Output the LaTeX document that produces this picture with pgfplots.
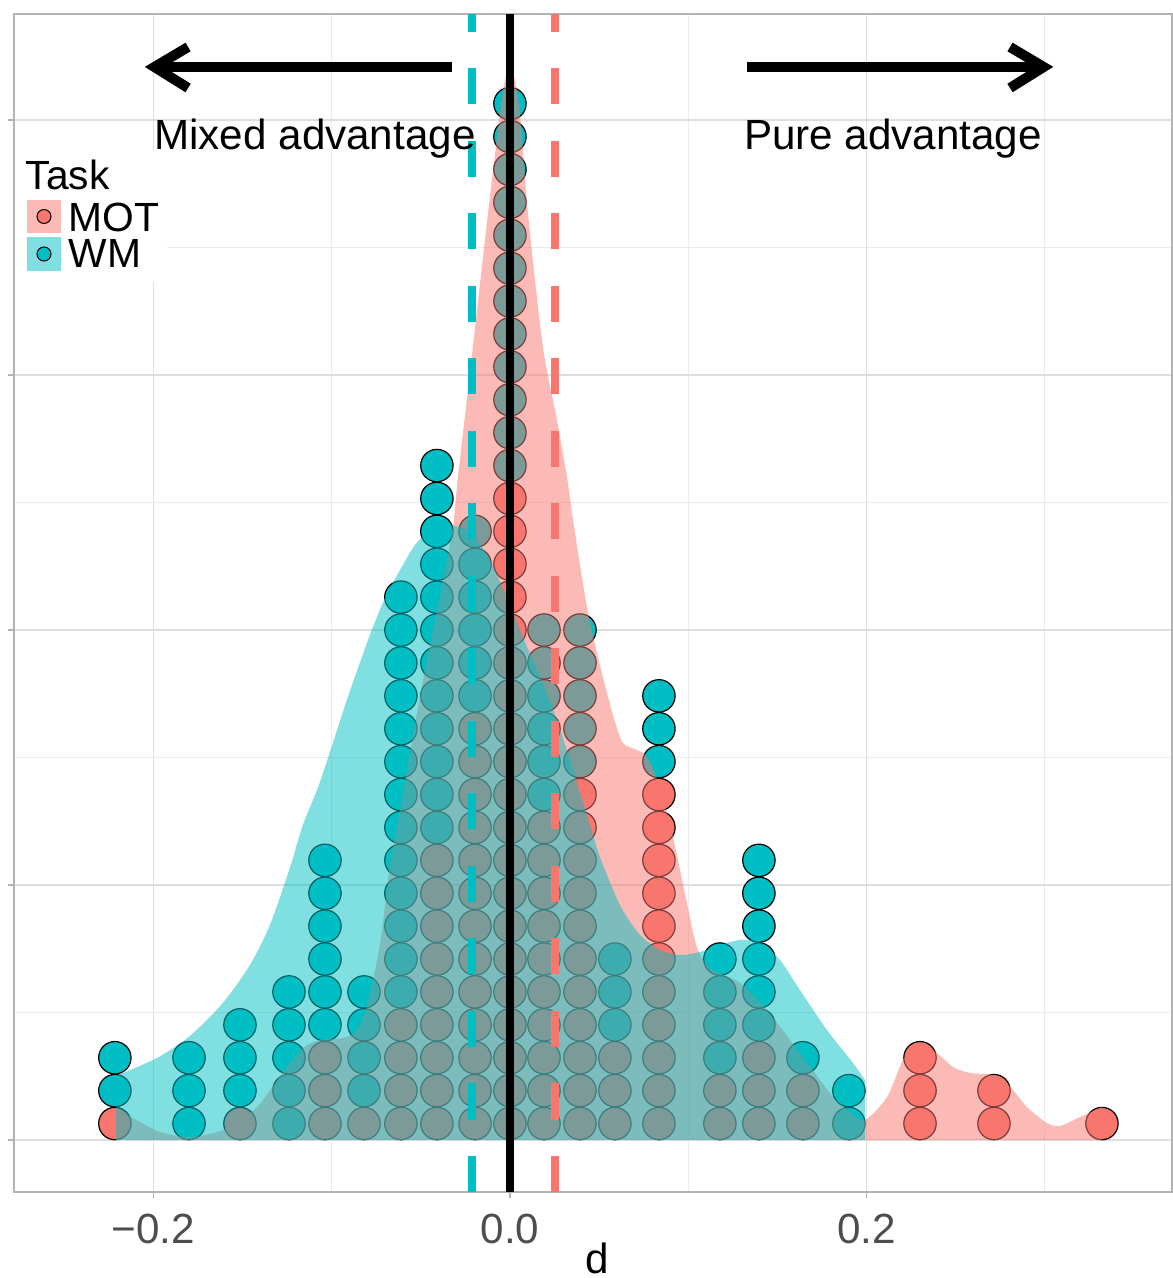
\documentclass[border=0pt]{standalone}
\usepackage{fontspec}
\setmainfont{Liberation Sans}
\usepackage{pgfplots}
\pgfplotsset{compat=1.18}
\definecolor{mot}{HTML}{F8766D}
\definecolor{wm}{HTML}{00BFC4}
\definecolor{gridmaj}{HTML}{DEDEDE}
\definecolor{gridmin}{HTML}{EBEBEB}
\definecolor{border}{HTML}{B3B3B3}
\definecolor{ticklab}{HTML}{4D4D4D}
\begin{document}
\begin{tikzpicture}
\begin{axis}[
  at={(0,0)}, anchor=south west,
  scale only axis, width=115.8mm, height=117.8mm,
  xmin=-0.2783, xmax=0.3715, ymin=-1.581, ymax=34.225,
  xtick={-0.2,0,0.2}, xticklabels={−0.2,0.0,0.2},
  minor xtick={-0.1,0.1,0.3},
  ytick={0,7.751,15.502,23.252,31.003}, yticklabels={},
  minor ytick={3.875,11.626,19.377,27.128},
  grid=both,
  major grid style={color=gridmaj, line width=0.15mm},
  minor grid style={color=gridmin, line width=0.1mm},
  xtick pos=lower, ytick pos=left,
  tick align=outside, major tick length=0.6mm, minor tick length=0pt,
  tick style={color=border, line width=0.12mm},
  axis line style={color=border, line width=0.13mm},
  xticklabel style={font=\fontsize{12}{14}\selectfont, color=ticklab, inner sep=0pt, yshift=-1.5mm},
  xlabel={d}, xlabel style={font=\fontsize{12}{14}\selectfont, at={(axis description cs:0.5,0)}, anchor=base, yshift=-8.1mm, xshift=0.4mm, inner sep=0pt},
  clip marker paths=true,
]
% MOT dots
\addplot[only marks, mark=*, mark size=1.62mm, mark options={fill=mot, draw=black, line width=0.12mm}] table {
x y
-0.2217 0.5
-0.1515 0.5
-0.1038 0.5
-0.1038 1.5
-0.1038 2.5
-0.0819 0.5
-0.0612 0.5
-0.0612 1.5
-0.0612 2.5
-0.0612 3.5
-0.0410 0.5
-0.0410 1.5
-0.0410 2.5
-0.0410 3.5
-0.0410 4.5
-0.0410 5.5
-0.0410 6.5
-0.0410 7.5
-0.0410 8.5
-0.0196 0.5
-0.0196 1.5
-0.0196 2.5
-0.0196 3.5
-0.0196 4.5
-0.0196 5.5
-0.0196 6.5
-0.0196 7.5
-0.0196 8.5
-0.0196 9.5
-0.0196 10.5
-0.0196 11.5
-0.0196 12.5
0 0.5
0 1.5
0 2.5
0 3.5
0 4.5
0 5.5
0 6.5
0 7.5
0 8.5
0 9.5
0 10.5
0 11.5
0 12.5
0 13.5
0 14.5
0 15.5
0 16.5
0 17.5
0 18.5
0 19.5
0.0191 0.5
0.0191 1.5
0.0191 2.5
0.0191 3.5
0.0191 4.5
0.0191 5.5
0.0191 6.5
0.0191 7.5
0.0191 8.5
0.0191 9.5
0.0393 0.5
0.0393 1.5
0.0393 2.5
0.0393 3.5
0.0393 4.5
0.0393 5.5
0.0393 6.5
0.0393 7.5
0.0393 8.5
0.0393 9.5
0.0393 10.5
0.0589 0.5
0.0589 1.5
0.0589 2.5
0.0836 0.5
0.0836 1.5
0.0836 2.5
0.0836 3.5
0.0836 4.5
0.0836 5.5
0.0836 6.5
0.0836 7.5
0.0836 8.5
0.0836 9.5
0.0836 10.5
0.1178 0.5
0.1178 1.5
0.1397 0.5
0.1397 1.5
0.1397 2.5
0.1644 0.5
0.1644 1.5
0.2301 0.5
0.2301 1.5
0.2301 2.5
0.2716 0.5
0.2716 1.5
0.3322 0.5
};
% WM dots
\addplot[only marks, mark=*, mark size=1.62mm, mark options={fill=wm, draw=black, line width=0.12mm}] table {
x y
-0.2217 1.5
-0.2217 2.5
-0.1801 0.5
-0.1801 1.5
-0.1801 2.5
-0.1515 1.5
-0.1515 2.5
-0.1515 3.5
-0.1240 0.5
-0.1240 1.5
-0.1240 2.5
-0.1240 3.5
-0.1240 4.5
-0.1038 3.5
-0.1038 4.5
-0.1038 5.5
-0.1038 6.5
-0.1038 7.5
-0.1038 8.5
-0.0819 1.5
-0.0819 2.5
-0.0819 3.5
-0.0819 4.5
-0.0612 4.5
-0.0612 5.5
-0.0612 6.5
-0.0612 7.5
-0.0612 8.5
-0.0612 9.5
-0.0612 10.5
-0.0612 11.5
-0.0612 12.5
-0.0612 13.5
-0.0612 14.5
-0.0612 15.5
-0.0612 16.5
-0.0410 9.5
-0.0410 10.5
-0.0410 11.5
-0.0410 12.5
-0.0410 13.5
-0.0410 14.5
-0.0410 15.5
-0.0410 16.5
-0.0410 17.5
-0.0410 18.5
-0.0410 19.5
-0.0410 20.5
-0.0196 13.5
-0.0196 14.5
-0.0196 15.5
-0.0196 16.5
-0.0196 17.5
-0.0196 18.5
0 20.5
0 21.5
0 22.5
0 23.5
0 24.5
0 25.5
0 26.5
0 27.5
0 28.5
0 29.5
0 30.5
0 31.5
0.0191 10.5
0.0191 11.5
0.0191 12.5
0.0191 13.5
0.0191 14.5
0.0191 15.5
0.0393 11.5
0.0393 12.5
0.0393 13.5
0.0393 14.5
0.0393 15.5
0.0589 3.5
0.0589 4.5
0.0589 5.5
0.0836 11.5
0.0836 12.5
0.0836 13.5
0.1178 2.5
0.1178 3.5
0.1178 4.5
0.1178 5.5
0.1397 3.5
0.1397 4.5
0.1397 5.5
0.1397 6.5
0.1397 7.5
0.1397 8.5
0.1644 2.5
0.1902 0.5
0.1902 1.5
};
% MOT density
\addplot[draw=none, fill=mot, fill opacity=0.5, smooth, tension=0.45] table {
x y
-0.2211 0.973
-0.2076 0.547
-0.1964 0.243
-0.1796 0.091
-0.1611 0.304
-0.1420 1.003
-0.1274 2.067
-0.1162 2.796
-0.1066 3.039
-0.0937 3.100
-0.0859 3.343
-0.0802 4.103
-0.0730 5.927
-0.0673 8.359
-0.0617 10.031
-0.0544 12.310
-0.0466 14.590
-0.0393 16.504
-0.0320 18.633
-0.0292 20.152
-0.0208 24.103
-0.0123 28.177
-0.0056 31.216
-0.0028 32.219
0 32.523
0.0028 32.219
0.0056 31.216
0.0101 28.177
0.0185 24.103
0.0264 21.885
0.0320 20.152
0.0354 18.845
0.0432 16.201
0.0505 14.438
0.0578 12.918
0.0634 12.067
0.0713 11.854
0.0769 11.641
0.0842 10.729
0.0915 9.209
0.0993 7.204
0.1049 5.866
0.1122 5.228
0.1291 4.772
0.1442 3.952
0.1627 2.645
0.1813 1.307
0.1908 0.851
0.1992 0.607
0.2116 1.307
0.2205 2.432
0.2262 2.736
0.2301 2.948
0.2396 2.645
0.2486 2.219
0.2581 2.036
0.2710 1.976
0.2789 1.732
0.2901 1.003
0.3013 0.516
0.3086 0.425
0.3199 0.700
0.3322 1.003
} \closedcycle;
% WM density
\addplot[draw=none, fill=wm, fill opacity=0.5, smooth, tension=0.45] table {
x y
-0.2211 1.945
-0.1981 2.492
-0.1796 3.161
-0.1611 4.164
-0.1459 5.319
-0.1347 6.535
-0.1235 8.268
-0.1162 9.575
-0.1066 10.882
-0.0915 13.374
-0.0786 15.350
-0.0701 16.474
-0.0617 17.325
-0.0533 18.086
-0.0449 18.511
-0.0354 18.662
-0.0281 18.633
-0.0208 18.389
-0.0112 17.629
-0.0017 16.474
0.0073 15.288
0.0168 14.072
0.0264 12.766
0.0354 11.246
0.0449 9.575
0.0505 8.602
0.0617 7.143
0.0730 6.231
0.0842 5.775
0.0954 5.623
0.1066 5.714
0.1178 5.927
0.1291 6.079
0.1403 6.019
0.1515 5.471
0.1627 4.559
0.1779 3.343
0.1925 2.340
0.1992 1.823
} \closedcycle;
% mean lines
\addplot[wm, line width=0.8mm, dash pattern=on 3.6mm off 3.65mm] coordinates {(-0.0213,-1.581) (-0.0213,34.225)};
\addplot[mot, line width=0.8mm, dash pattern=on 3.6mm off 3.65mm] coordinates {(0.0253,-1.581) (0.0253,34.225)};
\addplot[black, line width=0.85mm] coordinates {(0,-1.581) (0,34.225)};
% arrows
\draw[line width=1mm] (axis cs:-0.0325,32.614) -- (axis cs:-0.1990,32.614);
\draw[line width=1mm, line join=miter, miter limit=3] (axis cs:-0.1806,33.222) -- (axis cs:-0.1995,32.614) -- (axis cs:-0.1806,31.976);
\draw[line width=1mm] (axis cs:0.1332,32.614) -- (axis cs:0.2990,32.614);
\draw[line width=1mm, line join=miter, miter limit=3] (axis cs:0.2806,33.222) -- (axis cs:0.2995,32.614) -- (axis cs:0.2806,31.976);
\node[anchor=base, inner sep=0pt, font=\fontsize{12}{14}\selectfont] at (axis cs:-0.1094,30.12) {Mixed advantage};
\node[anchor=base, inner sep=0pt, font=\fontsize{12}{14}\selectfont] at (axis cs:0.2149,30.12) {Pure advantage};
\end{axis}
% legend
\fill[white] (0.1mm,91mm) rectangle (15.3mm,104.2mm);
\node[anchor=base west, inner sep=0pt, font=\fontsize{11.6}{13}\selectfont] at (1.1mm,100.2mm) {Task};
\fill[mot, opacity=0.5] (1.3mm,95.9mm) rectangle (4.7mm,99.2mm);
\filldraw[fill=mot, draw=black, line width=0.1mm] (3.0mm,97.55mm) circle (0.7mm);
\node[anchor=base west, inner sep=0pt, font=\fontsize{11.6}{13}\selectfont] at (5.4mm,96.0mm) {MOT};
\fill[wm, opacity=0.5] (1.3mm,92.1mm) rectangle (4.7mm,95.5mm);
\filldraw[fill=wm, draw=black, line width=0.1mm] (3.0mm,93.8mm) circle (0.7mm);
\node[anchor=base west, inner sep=0pt, font=\fontsize{11.6}{13}\selectfont] at (5.4mm,92.4mm) {WM};
\pgfresetboundingbox
\path[use as bounding box] (-1.4mm,-8.6mm) rectangle (115.9mm,119.2mm);
\end{tikzpicture}
\end{document}
